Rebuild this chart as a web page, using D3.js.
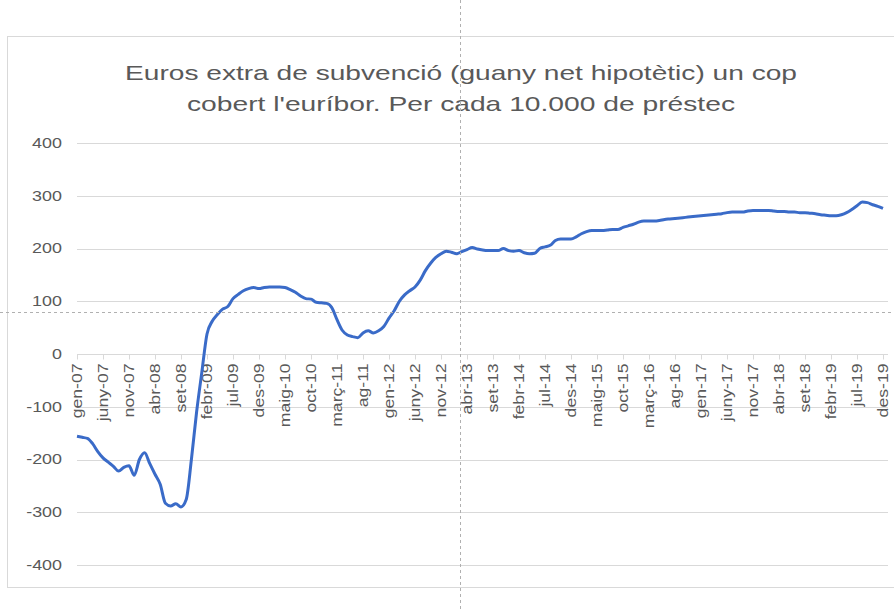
<!DOCTYPE html>
<script src="https://d3js.org/d3.v7.min.js"></script>
<body style="margin: 0; background: #fff;">
<svg id="chart" width="894" height="612"></svg>
</body>

<style>
  text { font-family: "Liberation Sans", Arial, sans-serif; fill: #595959; }
  .grid line { stroke: #d9d9d9; stroke-width: 1px; }
</style>

<script>

// month names (Catalan) and years of the category axis
var monthNames = ["gen", "febr", "març", "abr", "maig", "juny", "jul", "ag", "set", "oct", "nov", "des"];
var years = ["07", "08", "09", "10", "11", "12", "13", "14", "15", "16", "17", "18", "19"];

var titleLines = [
  "Euros extra de subvenció (guany net hipotètic) un cop",
  "cobert l'euríbor. Per cada 10.000 de préstec"
];

var yTicks = [400, 300, 200, 100, 0, -100, -200, -300, -400];

// monthly values, gen-07 .. des-19
var values = [
  -156, -158, -160, -170, -185, -197, -205, -213, -222, -215,
  -212, -230, -200, -187, -208, -228, -247, -283, -288, -284,
  -290, -276, -200, -110, -35, 38, 62, 75, 85, 90,
  105, 113, 120, 124, 126, 124, 126, 127, 127, 127,
  126, 122, 117, 110, 105, 104, 98, 97, 96, 88,
  65, 45, 36, 33, 31, 40, 44, 40, 44, 52,
  68, 82, 100, 112, 120, 127, 140, 158, 172, 183,
  190, 195, 193, 190, 194, 198, 202, 199, 197, 196,
  196, 196, 200, 196, 195, 196, 192, 190, 191, 200,
  203, 206, 215, 218, 218, 218, 222, 228, 232, 234,
  234, 234, 235, 236, 236, 240, 243, 246, 250, 252,
  252, 252, 253, 255, 256, 257, 258, 259, 260, 261,
  262, 263, 264, 265, 266, 268, 269, 269, 269, 271,
  272, 272, 272, 272, 271, 270, 270, 269, 269, 268,
  268, 267, 266, 264, 263, 262, 262, 264, 268, 274,
  281, 288, 287, 283, 280, 276
];

var categories = [];
years.forEach(function(y) {
  monthNames.forEach(function(m) { categories.push(m + "-" + y); });
});

var svg = d3.select("#chart");

// chart frame
svg.append("rect")
   .attr("x", 7.5).attr("y", 36.5)
   .attr("width", 900).attr("height", 551)
   .attr("fill", "#fff")
   .attr("stroke", "#d9d9d9");

var x = d3.scalePoint().domain(categories).range([77, 883]);
var y = d3.scaleLinear().domain([-400, 400]).range([565, 143]);

// title (text is stretched a bit, like the source picture)
svg.append("g").selectAll("text")
   .data(titleLines)
   .join("text")
     .attr("x", 461)
     .attr("y", function(d, i) { return 80 + i * 31; })
     .attr("text-anchor", "middle")
     .style("font-size", "21px")
     .attr("textLength", function(d, i) { return i == 0 ? 672 : 548; })
     .attr("lengthAdjust", "spacingAndGlyphs")
     .text(function(d) { return d; });

// horizontal gridlines
svg.append("g")
    .attr("class", "grid")
  .selectAll("line")
  .data(yTicks)
  .join("line")
    .attr("x1", 77).attr("x2", 888)
    .attr("y1", function(d) { return Math.round(y(d)) + 0.5; })
    .attr("y2", function(d) { return Math.round(y(d)) + 0.5; });

// y labels
svg.append("g").selectAll("text")
   .data(yTicks)
   .join("text")
     .attr("transform", function(d) { return "translate(62," + y(d) + ") scale(1.28,1)"; })
     .attr("dy", "0.35em")
     .attr("text-anchor", "end")
     .style("font-size", "14px")
     .text(function(d) { return d; });

// category axis on the zero line
var labelled = categories.filter(function(d, i) { return i % 5 == 0; });
var y0 = Math.round(y(0)) + 0.5;

svg.append("line")
   .attr("x1", 77).attr("x2", 888)
   .attr("y1", y0).attr("y2", y0)
   .attr("stroke", "#d9d9d9");

svg.append("g").selectAll("line")
   .data(labelled)
   .join("line")
     .attr("x1", function(d) { return Math.round(x(d)) + 0.5; })
     .attr("x2", function(d) { return Math.round(x(d)) + 0.5; })
     .attr("y1", y0).attr("y2", y0 + 5)
     .attr("stroke", "#d9d9d9");

svg.append("g").selectAll("text")
   .data(labelled)
   .join("text")
     .attr("transform", function(d) { return "translate(" + x(d) + "," + (y0 + 9) + ") rotate(-90) scale(1.26,1)"; })
     .attr("dy", "0.35em")
     .attr("text-anchor", "end")
     .style("font-size", "14px")
     .text(function(d) { return d; });

// the series
var line = d3.line()
   .x(function(d, i) { return x(categories[i]); })
   .y(function(d) { return y(d); })
   .curve(d3.curveMonotoneX);

svg.append("path")
   .datum(values)
   .attr("d", line)
   .attr("fill", "none")
   .attr("stroke", "#3a6bc8")
   .attr("stroke-width", 3)
   .attr("stroke-linejoin", "round");

// dashed crosshair seen on the screenshot
svg.append("line")
   .attr("x1", 460.5).attr("x2", 460.5).attr("y1", 0).attr("y2", 612)
   .attr("stroke", "#b0b0b0").attr("stroke-dasharray", "3,3");
svg.append("line")
   .attr("x1", 0).attr("x2", 894).attr("y1", 312.5).attr("y2", 312.5)
   .attr("stroke", "#b0b0b0").attr("stroke-dasharray", "3,3");

</script>
